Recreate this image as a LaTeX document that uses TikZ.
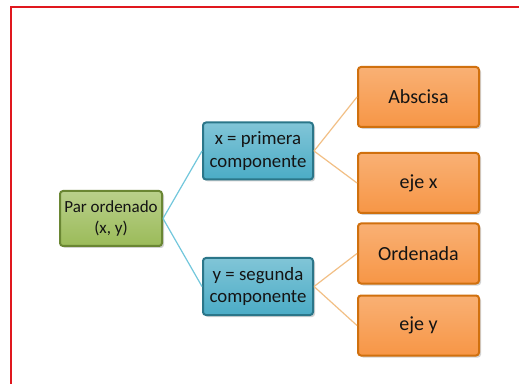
\documentclass[tikz,border=0pt]{standalone}
\usepackage{fontspec}
\setmainfont{Carlito}
\usetikzlibrary{shadows}
\definecolor{gfill}{HTML}{9BBB59}
\definecolor{gdark}{HTML}{6A8633}
\definecolor{bfill}{HTML}{4BACC6}
\definecolor{bdark}{HTML}{2B7689}
\definecolor{ofill}{HTML}{F79646}
\definecolor{odark}{HTML}{D0700E}
\definecolor{bline}{HTML}{72C7DC}
\definecolor{oline}{HTML}{F2BF85}
\definecolor{frame}{HTML}{E0181E}
\tikzset{
  box/.style={rectangle, rounded corners=3pt, line width=2pt, align=center,
    inner sep=2pt, text=black!92, drop shadow={shadow xshift=2pt, shadow yshift=-2pt, opacity=0.35}},
  gbox/.style={box, draw=gdark, top color=gfill!70!white, bottom color=gfill, font=\fontsize{17}{21}\selectfont,
    minimum width=102pt, minimum height=55pt},
  bbox/.style={box, draw=bdark, top color=bfill!70!white, bottom color=bfill, font=\fontsize{18.8}{22.5}\selectfont,
    minimum width=110pt, minimum height=57pt},
  obox/.style={box, draw=odark, top color=ofill!75!white, bottom color=ofill, font=\fontsize{20}{22}\selectfont,
    minimum width=121pt, minimum height=60pt},
  bcon/.style={draw=bline, line width=1.2pt},
  ocon/.style={draw=oline, line width=1.2pt}
}
\begin{document}
\begin{tikzpicture}[x=1pt,y=1pt]
\useasboundingbox (0,0) rectangle (519,383);
\fill[white] (0,0) rectangle (519,383);
\draw[frame, line width=1.8pt] (11,-5) -- (11,376) -- (525,376);
\node[gbox] (par) at (111,164.5) {Par ordenado\\(x, y)};
\node[bbox] (xc) at (258,232) {x = primera\\componente};
\node[bbox] (yc) at (258,96.5) {y = segunda\\componente};
\node[obox] (abs) at (418.5,286) {Abscisa};
\node[obox] (ejx) at (418.5,200) {eje x};
\node[obox] (ord) at (418.5,129.5) {Ordenada};
\node[obox] (ejy) at (418.5,57.5) {eje y};
\draw[bcon] (par.east) -- (xc.west);
\draw[bcon] (par.east) -- (yc.west);
\draw[ocon] (xc.east) -- (abs.west);
\draw[ocon] (xc.east) -- (ejx.west);
\draw[ocon] (yc.east) -- (ord.west);
\draw[ocon] (yc.east) -- (ejy.west);
\end{tikzpicture}
\end{document}
